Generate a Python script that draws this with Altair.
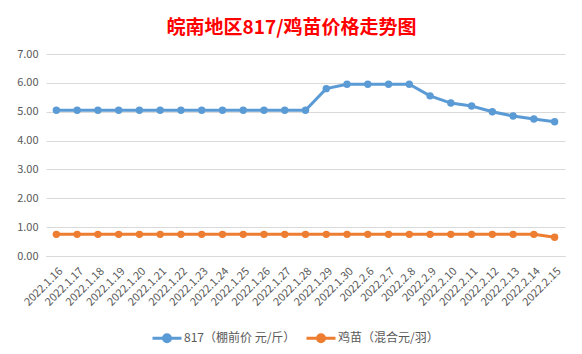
import altair as alt
import pandas as pd

dates = ["2022.1.16", "2022.1.17", "2022.1.18", "2022.1.19", "2022.1.20", "2022.1.21",
         "2022.1.22", "2022.1.23", "2022.1.24", "2022.1.25", "2022.1.26", "2022.1.27",
         "2022.1.28", "2022.1.29", "2022.1.30", "2022.2.6", "2022.2.7", "2022.2.8",
         "2022.2.9", "2022.2.10", "2022.2.11", "2022.2.12", "2022.2.13", "2022.2.14",
         "2022.2.15"]
s1_name = "817（棚前价 元/斤）"
s2_name = "鸡苗（混合元/羽）"
s1_values = [5.05, 5.05, 5.05, 5.05, 5.05, 5.05, 5.05, 5.05, 5.05, 5.05, 5.05, 5.05,
             5.05, 5.80, 5.95, 5.95, 5.95, 5.95, 5.55, 5.30, 5.20, 5.00, 4.85, 4.75, 4.65]
s2_values = [0.75, 0.75, 0.75, 0.75, 0.75, 0.75, 0.75, 0.75, 0.75, 0.75, 0.75, 0.75,
             0.75, 0.75, 0.75, 0.75, 0.75, 0.75, 0.75, 0.75, 0.75, 0.75, 0.75, 0.75, 0.65]

rows = []
for d, v in zip(dates, s1_values):
    rows.append({"date": d, "series": s1_name, "value": v})
for d, v in zip(dates, s2_values):
    rows.append({"date": d, "series": s2_name, "value": v})
df = pd.DataFrame(rows)

FONT = "Noto Sans CJK SC"
r = 0.24
sym_path = f"M-1,0H1M{r},0A{r},{r},0,1,1,-{r},0A{r},{r},0,1,1,{r},0Z"

color = alt.Color(
    "series:N",
    scale=alt.Scale(domain=[s1_name, s2_name], range=["#5B9BD5", "#ED7D31"]),
    legend=alt.Legend(
        title=None, orient="none", direction="horizontal",
        legendX=105, legendY=268,
        symbolType=sym_path, symbolSize=841, symbolStrokeWidth=3,
        labelFont=FONT, labelFontSize=12, labelColor="#595959",
        labelOffset=1, columnPadding=4,
        symbolOpacity=1,
    ),
)

x = alt.X("date:O", sort=dates,
          scale=alt.Scale(paddingInner=0, paddingOuter=0.5),
          axis=alt.Axis(title=None, labelAngle=-45, labelFont=FONT, labelFontSize=11,
                        labelColor="#595959", ticks=False, domainColor="#d9d9d9",
                        labelPadding=9))
y = alt.Y("value:Q", scale=alt.Scale(domain=[0, 7]),
          axis=alt.Axis(title=None, format=".2f", values=[0, 1, 2, 3, 4, 5, 6, 7],
                        labelFont=FONT, labelFontSize=11, labelColor="#595959",
                        ticks=False, domain=False, gridColor="#d9d9d9", labelPadding=8))

base = alt.Chart(df).encode(x=x, y=y, color=color, detail="series:N")
lines = base.mark_line(strokeWidth=3)
points = base.mark_point(filled=True, size=55, opacity=1)

chart = alt.layer(lines, points).properties(
    width=519, height=202,
    title=alt.TitleParams("皖南地区817/鸡苗价格走势图", font=FONT, fontSize=19,
                          fontWeight="bold", color="#FF0000", anchor="middle",
                          dx=-14, offset=10),
    autosize=alt.AutoSizeParams(type="none"),
    padding={"left": 46, "top": 54, "right": 17, "bottom": 98},
    background="white",
).configure_view(stroke=None)

chart.save("out.html", embed_options={"renderer": "svg", "actions": False})
